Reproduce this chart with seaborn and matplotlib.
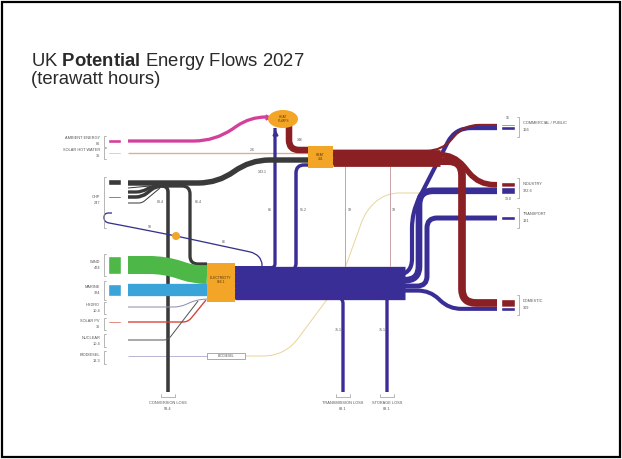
import numpy as np
import matplotlib
matplotlib.use("Agg")
import matplotlib.pyplot as plt
import seaborn as sns
from matplotlib.path import Path
from matplotlib.patches import PathPatch, Ellipse, Rectangle

# ---------------- data (TWh) ----------------
source_names = ["AMBIENT ENERGY", "SOLAR HOT WATER", "CHP", "WIND", "MARINE",
                "HYDRO", "SOLAR PV", "NUCLEAR", "BIODIESEL"]
source_labels = ["86", "36", "247", "474", "324", "10.4", "36", "10.4", "13.3"]
source_values = [86, 36, 247, 474, 324, 10.4, 36, 10.4, 13.3]

chp_parts = ["to heat", "misc a", "to electricity", "conversion", "misc b", "loop"]
chp_values = [143.1, 20, 45, 45, 20, 20]
chp_to_heat = 143.1
chp_to_elec = 86.4
chp_conv_loss = 93.4
chp_loop = 20

elec_branches = ["heat pumps", "heat", "commercial", "industry", "transport",
                 "domestic", "storage loss", "transmission loss"]
elec_values = [86, 91.2, 110, 175.6, 131, 107, 88.1, 88.1]

heat_branches = ["commercial", "industry", "domestic", "store a", "store b"]
heat_values = [56, 147, 202, 18, 18]
heatpump_out = 172

output_names = ["COMMERCIAL / PUBLIC", "INDUSTRY", "TRANSPORT", "DOMESTIC"]
output_labels = ["166", "322.6", "131", "309"]
loss_names = ["CONVERSION LOSS", "TRANSMISSION LOSS", "STORAGE LOSS"]
loss_labels = ["93.4", "88.1", "88.1"]

flow_labels = ["2.6", "143.1", "146", "86", "91.2", "18", "18", "88.4", "86.4",
               "90", "86", "75.1", "75.1", "16", "13.0"]

# ---------------- style ----------------
sns.set_theme(style="white")
plt.rcParams["font.family"] = ["Liberation Sans", "DejaVu Sans"]
plt.rcParams["mathtext.fontset"] = "custom"
plt.rcParams["mathtext.rm"] = "Liberation Sans"
plt.rcParams["mathtext.bf"] = "Liberation Sans:bold"

K = 0.038  # px per TWh

C_MAG = "#d3409c"
C_TAN = "#dcae90"
C_GRAY = "#3a3a3a"
C_GREEN = "#4db748"
C_BLUE = "#3aa3d8"
C_HYDRO = "#8a8cb0"
C_PV = "#d5463a"
C_NUC = "#555555"
C_BIO = "#b8b8d2"
C_YEL = "#e9d59b"
C_PUR = "#392e95"
C_RED = "#8a1f24"
C_ORG = "#f2a527"
C_PINK = "#c9a3a6"
C_NAVY = "#34338c"
src_colors = [C_MAG, C_TAN, C_GRAY, C_GREEN, C_BLUE, C_HYDRO, C_PV, C_NUC, C_BIO]

fig = plt.figure(figsize=(6.22, 4.59), dpi=100)
ax = fig.add_axes([0, 0, 1, 1])
ax.set_xlim(0, 622)
ax.set_ylim(459, 0)
ax.axis("off")


def rpath(pts, r):
    pts = [np.array(p, float) for p in pts]
    verts = [pts[0]]
    codes = [Path.MOVETO]
    n = len(pts)
    for i in range(1, n - 1):
        p0, p1, p2 = pts[i - 1], pts[i], pts[i + 1]
        v1 = p1 - p0
        v2 = p2 - p1
        l1 = np.hypot(*v1)
        l2 = np.hypot(*v2)
        if l1 == 0 or l2 == 0:
            continue
        rr = min(r, l1 * (1 if i == 1 else 0.5), l2 * (1 if i == n - 2 else 0.5))
        a = p1 - v1 / l1 * rr
        b = p1 + v2 / l2 * rr
        verts += [a, p1, b]
        codes += [Path.LINETO, Path.CURVE3, Path.CURVE3]
    verts.append(pts[-1])
    codes.append(Path.LINETO)
    return Path(verts, codes)


def flow(pts, val, color, r=10, minpx=1.0, z=2):
    ax.add_patch(PathPatch(rpath(pts, r), fill=False, lw=max(val * K, minpx) * 0.72,
                           ec=color, capstyle="butt", joinstyle="round", zorder=z))


def small(x, y, s, ha="center", size=3.0, color="#555555", z=8, **kw):
    ax.text(x, y, s, ha=ha, va="center", fontsize=size, color=color, zorder=z, **kw)


# ---------------- title ----------------
ax.text(31, 61, r"UK $\bf{Potential}$ Energy Flows 2027", fontsize=13.3,
        color="#2a2a2a", va="center", ha="left")
ax.text(31, 79, "(terawatt hours)", fontsize=13.3, color="#2a2a2a", va="center", ha="left")

# ---------------- source stubs ----------------
src_y = [141, 153, None, 265, 290, 307, 322, 340, 356]
for i, (nm, lab, v, c, y) in enumerate(zip(source_names, source_labels, source_values, src_colors, src_y)):
    if y is None:
        continue
    h = max(v * K, 1.0)
    ax.barh(y, 13, left=108, height=h, color=c, zorder=3)
# CHP composite stub
chp_y = [182, 188, 192.5, 197, 203, 209]
for v, y in zip(chp_values, chp_y):
    ax.barh(y, 13, left=108, height=max(v * K, 1.0), color=C_GRAY, zorder=3)

# source labels and brackets
lab_y = [141, 153, 200, 265, 290, 308, 324, 341, 358]
br = [(136, 147), (148, 159), (177, 228), (254, 276), (281, 300), (302, 314),
      (318, 330), (334, 347), (351, 364)]
for nm, lab, y, (b0, b1) in zip(source_names, source_labels, lab_y, br):
    small(100, y - 3, nm, ha="right", size=2.8)
    small(100, y + 3, lab, ha="right", size=2.8)
    ax.plot([106, 104, 104, 106], [b0, b0, b1, b1], color="#999999", lw=0.5, zorder=3)

# ---------------- flows into heat side ----------------
flow([(128, 141), (215, 141), (250, 117), (266, 117)], source_values[0], C_MAG, r=22)
ax.plot([268], [117], marker=">", ms=3.5, color=C_MAG, zorder=4)
flow([(128, 153), (308, 153)], source_values[1], C_TAN, r=5)

# ---------------- electricity trunk ----------------
etot = sum(elec_values)
etop = 266.0
ec = []
acc = etop
for v in elec_values:
    ec.append(acc + v * K / 2)
    acc += v * K
flow([(235, etop + etot * K / 2), (405, etop + etot * K / 2)], etot, C_PUR, r=5, z=2)

# output stacks
out_center = [127, 188, 218, 305]
out_red = [heat_values[0], heat_values[1], 0, heat_values[2]]
out_pur = [elec_values[2], elec_values[3], elec_values[4], elec_values[5]]
red_c, pur_c = [], []
for cy, rv, pv in zip(out_center, out_red, out_pur):
    top = cy - (rv + pv) * K / 2
    red_c.append(top + rv * K / 2)
    pur_c.append(top + rv * K + pv * K / 2)

# purple branches
flow([(235, ec[0]), (275, ec[0]), (275, 128)], elec_values[0], C_PUR, r=4)
ax.plot([275], [133], marker="^", ms=3.5, color=C_PUR, zorder=4)
flow([(235, ec[1]), (296, ec[1]), (296, 165), (308, 165)], elec_values[1], C_PUR, r=8)
flow([(235, ec[2]), (412, ec[2]), (412, 212), (455, pur_c[0]), (497, pur_c[0])], elec_values[2], C_PUR, r=16)
flow([(235, ec[3]), (419, ec[3]), (419, pur_c[1]), (497, pur_c[1])], elec_values[3], C_PUR, r=14)
flow([(235, ec[4]), (427, ec[4]), (427, pur_c[2]), (497, pur_c[2])], elec_values[4], C_PUR, r=10)
flow([(235, ec[5]), (430, ec[5]), (449, pur_c[3]), (497, pur_c[3])], elec_values[5], C_PUR, r=12)
flow([(235, ec[6]), (387, ec[6]), (387, 392)], elec_values[6], "#3d2c98", r=6)
flow([(235, ec[7]), (343, ec[7]), (343, 392)], elec_values[7], "#3d2c98", r=6)

# biodiesel
flow([(128, 356), (207, 356)], source_values[8], C_BIO, r=5)
flow([(245, 356), (285, 356), (340, 282), (366, 210), (386, 193), (420, 193)],
     source_values[8], C_YEL, r=22, z=1.5)
ax.add_patch(Rectangle((207, 353), 38, 6, fc="white", ec="#888888", lw=0.5, zorder=5))
small(226, 356, "BIODIESEL", size=2.3)

# CHP flows
flow([(128, 192), (142, 192), (152, 186), (190, 186), (190, 264), (207, 264)], chp_to_elec, C_GRAY, r=8)
flow([(128, 197), (142, 197), (156, 186), (168, 186), (168, 392)], chp_conv_loss, C_GRAY, r=6)
flow([(128, 188), (150, 186)], chp_values[1], C_GRAY, r=3)
flow([(128, 203), (142, 203), (160, 188)], chp_values[4], C_GRAY, r=3)
flow([(112, 213), (104, 213), (104, 222), (125, 226), (176, 236), (255, 253), (262, 260), (262, 268)],
     chp_loop, C_NAVY, r=5, minpx=1.3, z=2.5)
ax.add_patch(Ellipse((176, 236), 8, 8, fc=C_ORG, ec="none", zorder=4))
flow([(128, 183), (218, 183), (250, 160), (308, 160)], chp_to_heat, C_GRAY, r=22, z=3)

# electricity inputs
flow([(128, 265), (165, 265), (195, 275), (207, 275)], source_values[3], C_GREEN, r=22)
flow([(128, 290), (207, 290)], source_values[4], C_BLUE, r=5)
flow([(128, 307), (180, 307), (196, 300), (207, 299)], source_values[5], C_HYDRO, r=6)
flow([(128, 322), (188, 322), (206, 300)], source_values[6], C_PV, r=5)
flow([(128, 340), (168, 340), (198, 301)], source_values[7], C_NUC, r=4)

# ---------------- heat flows ----------------
htot = sum(heat_values)
htop = 158 - htot * K / 2
hc = []
acc = htop
for v in heat_values:
    hc.append(acc + v * K / 2)
    acc += v * K
flow([(289, 126), (289, 150), (308, 150)], heatpump_out, C_RED, r=10, z=3)
flow([(333, 158), (440, 158)], htot, C_RED, r=5, z=3)
flow([(333, hc[0]), (442, hc[0]), (464, red_c[0]), (497, red_c[0])], heat_values[0], C_RED, r=15, z=3)
flow([(333, hc[1]), (454, hc[1]), (479, red_c[1]), (497, red_c[1])], heat_values[1], C_RED, r=15, z=3)
flow([(333, hc[2]), (462, hc[2]), (462, red_c[3]), (497, red_c[3])], heat_values[2], C_RED, r=14, z=3)
flow([(345, 166), (345, 266)], heat_values[3], C_PINK, r=5, z=1.8)
flow([(390, 166), (390, 266)], heat_values[4], C_PINK, r=5, z=1.8)

# ---------------- nodes ----------------
ax.add_patch(Rectangle((207, 263), 28, 39, fc=C_ORG, ec="none", zorder=5))
small(221, 280, "ELECTRICITY\n866.1", size=2.4, color="#5a3a10")
ax.add_patch(Rectangle((308, 146), 25, 22, fc=C_ORG, ec="none", zorder=5))
small(320.5, 157, "HEAT\n441", size=2.4, color="#5a3a10")
ax.add_patch(Ellipse((283, 119), 30, 18, fc=C_ORG, ec="none", zorder=5))
small(283, 119, "HEAT\nPUMPS", size=2.3, color="#5a3a10")

# ---------------- output stubs & labels ----------------
for i, (nm, lab, cy, rv, pv) in enumerate(zip(output_names, output_labels, out_center, out_red, out_pur)):
    if rv > 0:
        ax.barh(red_c[i], 14, left=501, height=rv * K, color=C_RED, zorder=3)
    ax.barh(pur_c[i], 14, left=501, height=pv * K, color=C_PUR, zorder=3)
    b0 = cy - 10
    b1 = cy + 10
    ax.plot([517, 519, 519, 517], [b0, b0, b1, b1], color="#999999", lw=0.5)
    small(523, cy - 4, nm, ha="left", size=2.8)
    small(523, cy + 3, lab, ha="left", size=2.8)

# ---------------- losses ----------------
for x, nm, lab in zip([168, 343, 387], loss_names, loss_labels):
    ax.plot([x - 7, x - 7, x + 7, x + 7], [394, 397, 397, 394], color="#999999", lw=0.5)
    small(x, 403, nm, size=2.8)
    small(x, 409, lab, size=2.8)

# ---------------- flow value labels ----------------
flow_label_pos = [(252, 150), (262, 172), (300, 140), (270, 210), (303, 210), (350, 210),
                  (394, 210), (160, 202), (198, 202), (150, 227), (224, 242), (338, 330),
                  (382, 330), (508, 118), (508, 199)]
for s, (x, y) in zip(flow_labels, flow_label_pos):
    small(x, y, s, size=2.6)

# frame
fig.patches.append(Rectangle((0.003, 0.004), 0.994, 0.992, transform=fig.transFigure,
                             fill=False, ec="black", lw=1.6))

fig.savefig("out.png", dpi=100)
